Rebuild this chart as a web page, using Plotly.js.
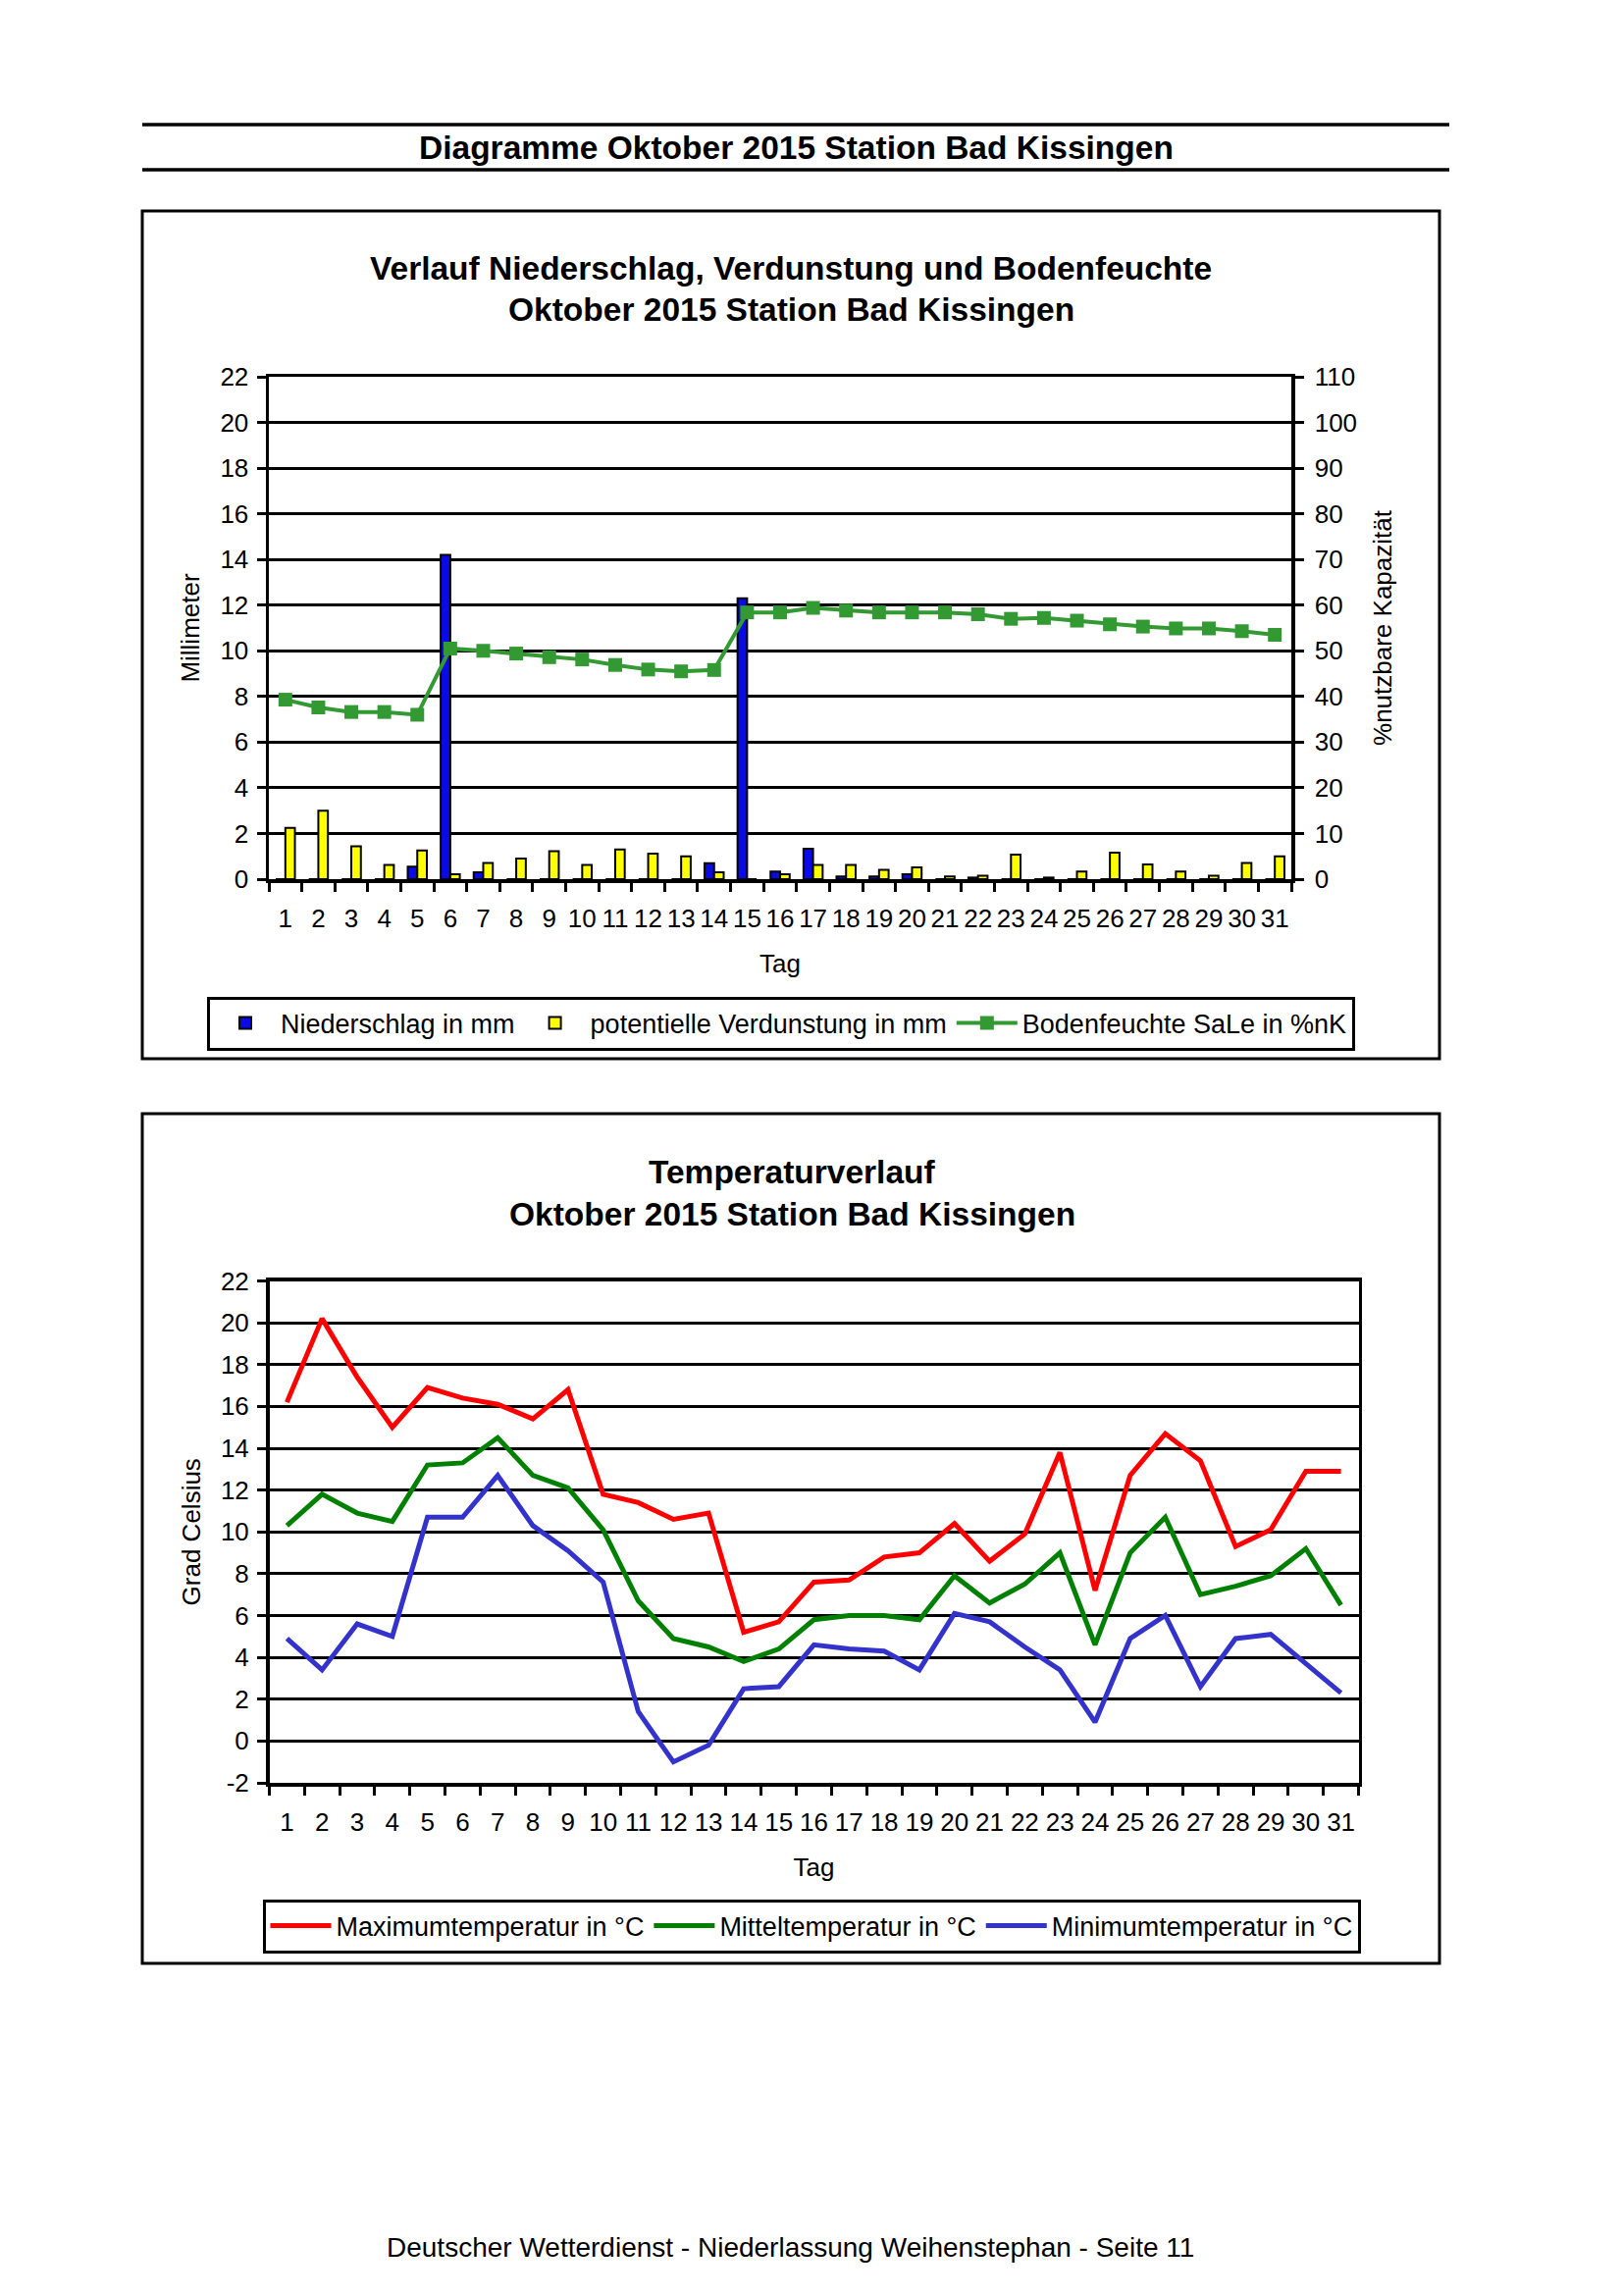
<!DOCTYPE html>
<html>
<head>
<meta charset="utf-8">
<script src="https://cdn.plot.ly/plotly-3.0.1.min.js"></script>
<style>html,body{margin:0;padding:0;background:#fff;}</style>
</head>
<body>
<div id="chart" style="width:1653px;height:2340px;"></div>
<script>
// ---- Data ----
const days = ['1','2','3','4','5','6','7','8','9','10','11','12','13','14','15','16','17','18','19','20','21','22','23','24','25','26','27','28','29','30','31'];
const niederschlag = [0,0,0,0,0.55,14.2,0.3,0,0,0,0,0,0,0.7,12.3,0.33,1.33,0.12,0.12,0.22,0,0.07,0,0,0,0,0,0,0,0,0];
const verdunstung = [2.25,3.0,1.44,0.62,1.26,0.22,0.71,0.9,1.22,0.62,1.3,1.12,1.0,0.3,0,0.22,0.62,0.62,0.41,0.52,0.12,0.15,1.07,0.07,0.33,1.16,0.64,0.33,0.15,0.71,1.0];
const bodenfeuchte = [39.3,37.6,36.6,36.6,36.0,50.5,50.0,49.4,48.6,48.1,46.9,45.9,45.5,45.8,58.4,58.4,59.4,58.8,58.4,58.4,58.4,58.0,57.0,57.2,56.6,55.8,55.3,54.9,54.9,54.3,53.5];
const tmax = [16.2,20.2,17.4,15.0,16.9,16.4,16.1,15.4,16.8,11.8,11.4,10.6,10.9,5.2,5.7,7.6,7.7,8.8,9.0,10.4,8.6,9.9,13.8,7.2,12.7,14.7,13.4,9.3,10.1,12.9,12.9];
const tmean = [10.3,11.8,10.9,10.5,13.2,13.3,14.5,12.7,12.1,10.1,6.7,4.9,4.5,3.8,4.4,5.8,6.0,6.0,5.8,7.9,6.6,7.5,9.0,4.6,9.0,10.7,7.0,7.4,7.9,9.2,6.5];
const tmin = [4.9,3.4,5.6,5.0,10.7,10.7,12.7,10.3,9.1,7.6,1.4,-1.0,-0.2,2.5,2.6,4.6,4.4,4.3,3.4,6.1,5.7,4.5,3.4,0.9,4.9,6.0,2.6,4.9,5.1,3.7,2.3];
const tempTickVals = [-2,0,2,4,6,8,10,12,14,16,18,20,22];
const tempTickText = ['-2','0','2','4','6','8','10','12','14','16','18','20','22'];

const headerText = 'Diagramme Oktober 2015 Station Bad Kissingen';
const title1a = 'Verlauf Niederschlag, Verdunstung und Bodenfeuchte';
const title1b = 'Oktober 2015 Station Bad Kissingen';
const title2a = 'Temperaturverlauf';
const title2b = 'Oktober 2015 Station Bad Kissingen';
const footerText = 'Deutscher Wetterdienst - Niederlassung Weihenstephan - Seite 11';

// ---- Styling ----
const F = 'Liberation Sans, Arial, sans-serif';
const W = 1653, H = 2340;
const px = v => v / W;
const py = v => 1 - v / H;

const traces = [
  {type:'bar', name:'Niederschlag in mm', x:days, y:niederschlag, xaxis:'x', yaxis:'y',
   marker:{color:'#0a0ae6', line:{color:'black', width:2}}, legend:'legend'},
  {type:'bar', name:'potentielle Verdunstung in mm', x:days, y:verdunstung, xaxis:'x', yaxis:'y',
   marker:{color:'#ffff00', line:{color:'black', width:2}}, legend:'legend'},
  {type:'scatter', mode:'lines+markers', name:'Bodenfeuchte SaLe in %nK', x:days, y:bodenfeuchte, xaxis:'x', yaxis:'y2',
   line:{color:'#339933', width:4}, marker:{symbol:'square', size:14, color:'#339933'}, legend:'legend'},
  {type:'scatter', mode:'lines', name:'Maximumtemperatur in °C', x:days, y:tmax, xaxis:'x2', yaxis:'y3',
   line:{color:'#ff0000', width:5}, legend:'legend2'},
  {type:'scatter', mode:'lines', name:'Mitteltemperatur in °C', x:days, y:tmean, xaxis:'x2', yaxis:'y3',
   line:{color:'#008000', width:5}, legend:'legend2'},
  {type:'scatter', mode:'lines', name:'Minimumtemperatur in °C', x:days, y:tmin, xaxis:'x2', yaxis:'y3',
   line:{color:'#3333cc', width:5}, legend:'legend2'}
];

const xBase = {type:'category', tickson:'boundaries', ticks:'outside', ticklen:9, tickwidth:3, tickcolor:'black',
  showline:true, linewidth:3.5, linecolor:'black', mirror:true, showgrid:false, zeroline:false, tickangle:0,
  range:[-0.5, 30.5], autorange:false,
  tickmode:'linear', dtick:1, tickfont:{family:F, size:26, color:'black'}, ticklabelstandoff:14, fixedrange:true};
const yBase = {ticks:'outside', ticklen:9, tickwidth:3, tickcolor:'black', showline:true, linewidth:3.5, linecolor:'black',
  zeroline:false, tickfont:{family:F, size:26, color:'black'}, ticklabelstandoff:3, fixedrange:true};

const lineShape = (x0,y0,x1,y1,w) => ({type:'line', xref:'paper', yref:'paper', x0:px(x0), x1:px(x1), y0:py(y0), y1:py(y1), line:{color:'black', width:w}});
const rectShape = (x0,y0,x1,y1,w) => ({type:'rect', xref:'paper', yref:'paper', x0:px(x0), x1:px(x1), y0:py(y1), y1:py(y0), line:{color:'black', width:w}, fillcolor:'rgba(0,0,0,0)', layer:'below'});
const ann = (text,x,y,size,bold) => ({text: bold ? '<b>'+text+'</b>' : text, xref:'paper', yref:'paper', x:px(x), y:py(y),
  xanchor:'center', yanchor:'middle', showarrow:false, font:{family:F, size:size, color:'black'}});

const legendBase = {orientation:'h', xanchor:'center', yanchor:'middle',
  bgcolor:'white', bordercolor:'black', borderwidth:3, font:{family:F, size:27, color:'black'},
  itemwidth:62, traceorder:'normal', tracegroupgap:0};

const layout = {
  width:W, height:H, margin:{l:0,r:0,t:0,b:0}, paper_bgcolor:'white', plot_bgcolor:'white',
  font:{family:F, size:26, color:'black'},
  barmode:'group', bargap:0.42, bargroupgap:0, showlegend:true,
  xaxis:Object.assign({}, xBase, {domain:[px(274), px(1316)], anchor:'y',
    title:{text:'Tag', standoff:24, font:{family:F, size:26, color:'black'}}}),
  yaxis:Object.assign({}, yBase, {domain:[py(896), py(384)], anchor:'x', range:[0,22], dtick:2,
    showgrid:true, gridcolor:'black', gridwidth:3,
    title:{text:'Millimeter', standoff:14, font:{family:F, size:26, color:'black'}}}),
  yaxis2:Object.assign({}, yBase, {overlaying:'y', side:'right', anchor:'x', range:[0,110], dtick:10, showgrid:false,
    ticklabelstandoff:6,
    title:{text:'%nutzbare Kapazität', standoff:18, font:{family:F, size:26, color:'black'}}}),
  xaxis2:Object.assign({}, xBase, {domain:[px(274.5), px(1384.5)], anchor:'y3',
    title:{text:'Tag', standoff:24, font:{family:F, size:26, color:'black'}}}),
  yaxis3:Object.assign({}, yBase, {domain:[py(1817), py(1305.5)], anchor:'x2', range:[-2,22],
    tickmode:'array', tickvals:tempTickVals, ticktext:tempTickText, mirror:true,
    showgrid:true, gridcolor:'black', gridwidth:3,
    title:{text:'Grad Celsius', standoff:14, font:{family:F, size:26, color:'black'}}}),
  legend:Object.assign({}, legendBase, {x:px(796), y:py(1043)}),
  legend2:Object.assign({}, legendBase, {x:px(827), y:py(1963)}),
  shapes:[
    lineShape(145,127,1477,127,3.5),
    lineShape(145,173,1477,173,3.5),
    rectShape(145,215,1467,1079,3),
    rectShape(145,1135,1467,2001,3)
  ],
  annotations:[
    ann(headerText, 811, 151, 33.5, true),
    ann(title1a, 806, 273, 33.5, true),
    ann(title1b, 806, 316, 33.5, true),
    ann(title2a, 807, 1194, 33.5, true),
    ann(title2b, 807, 1237, 33.5, true),
    ann(footerText, 805, 2290, 28, false)
  ]
};

Plotly.newPlot('chart', traces, layout, {staticPlot:true, displayModeBar:false});
</script>
</body>
</html>
